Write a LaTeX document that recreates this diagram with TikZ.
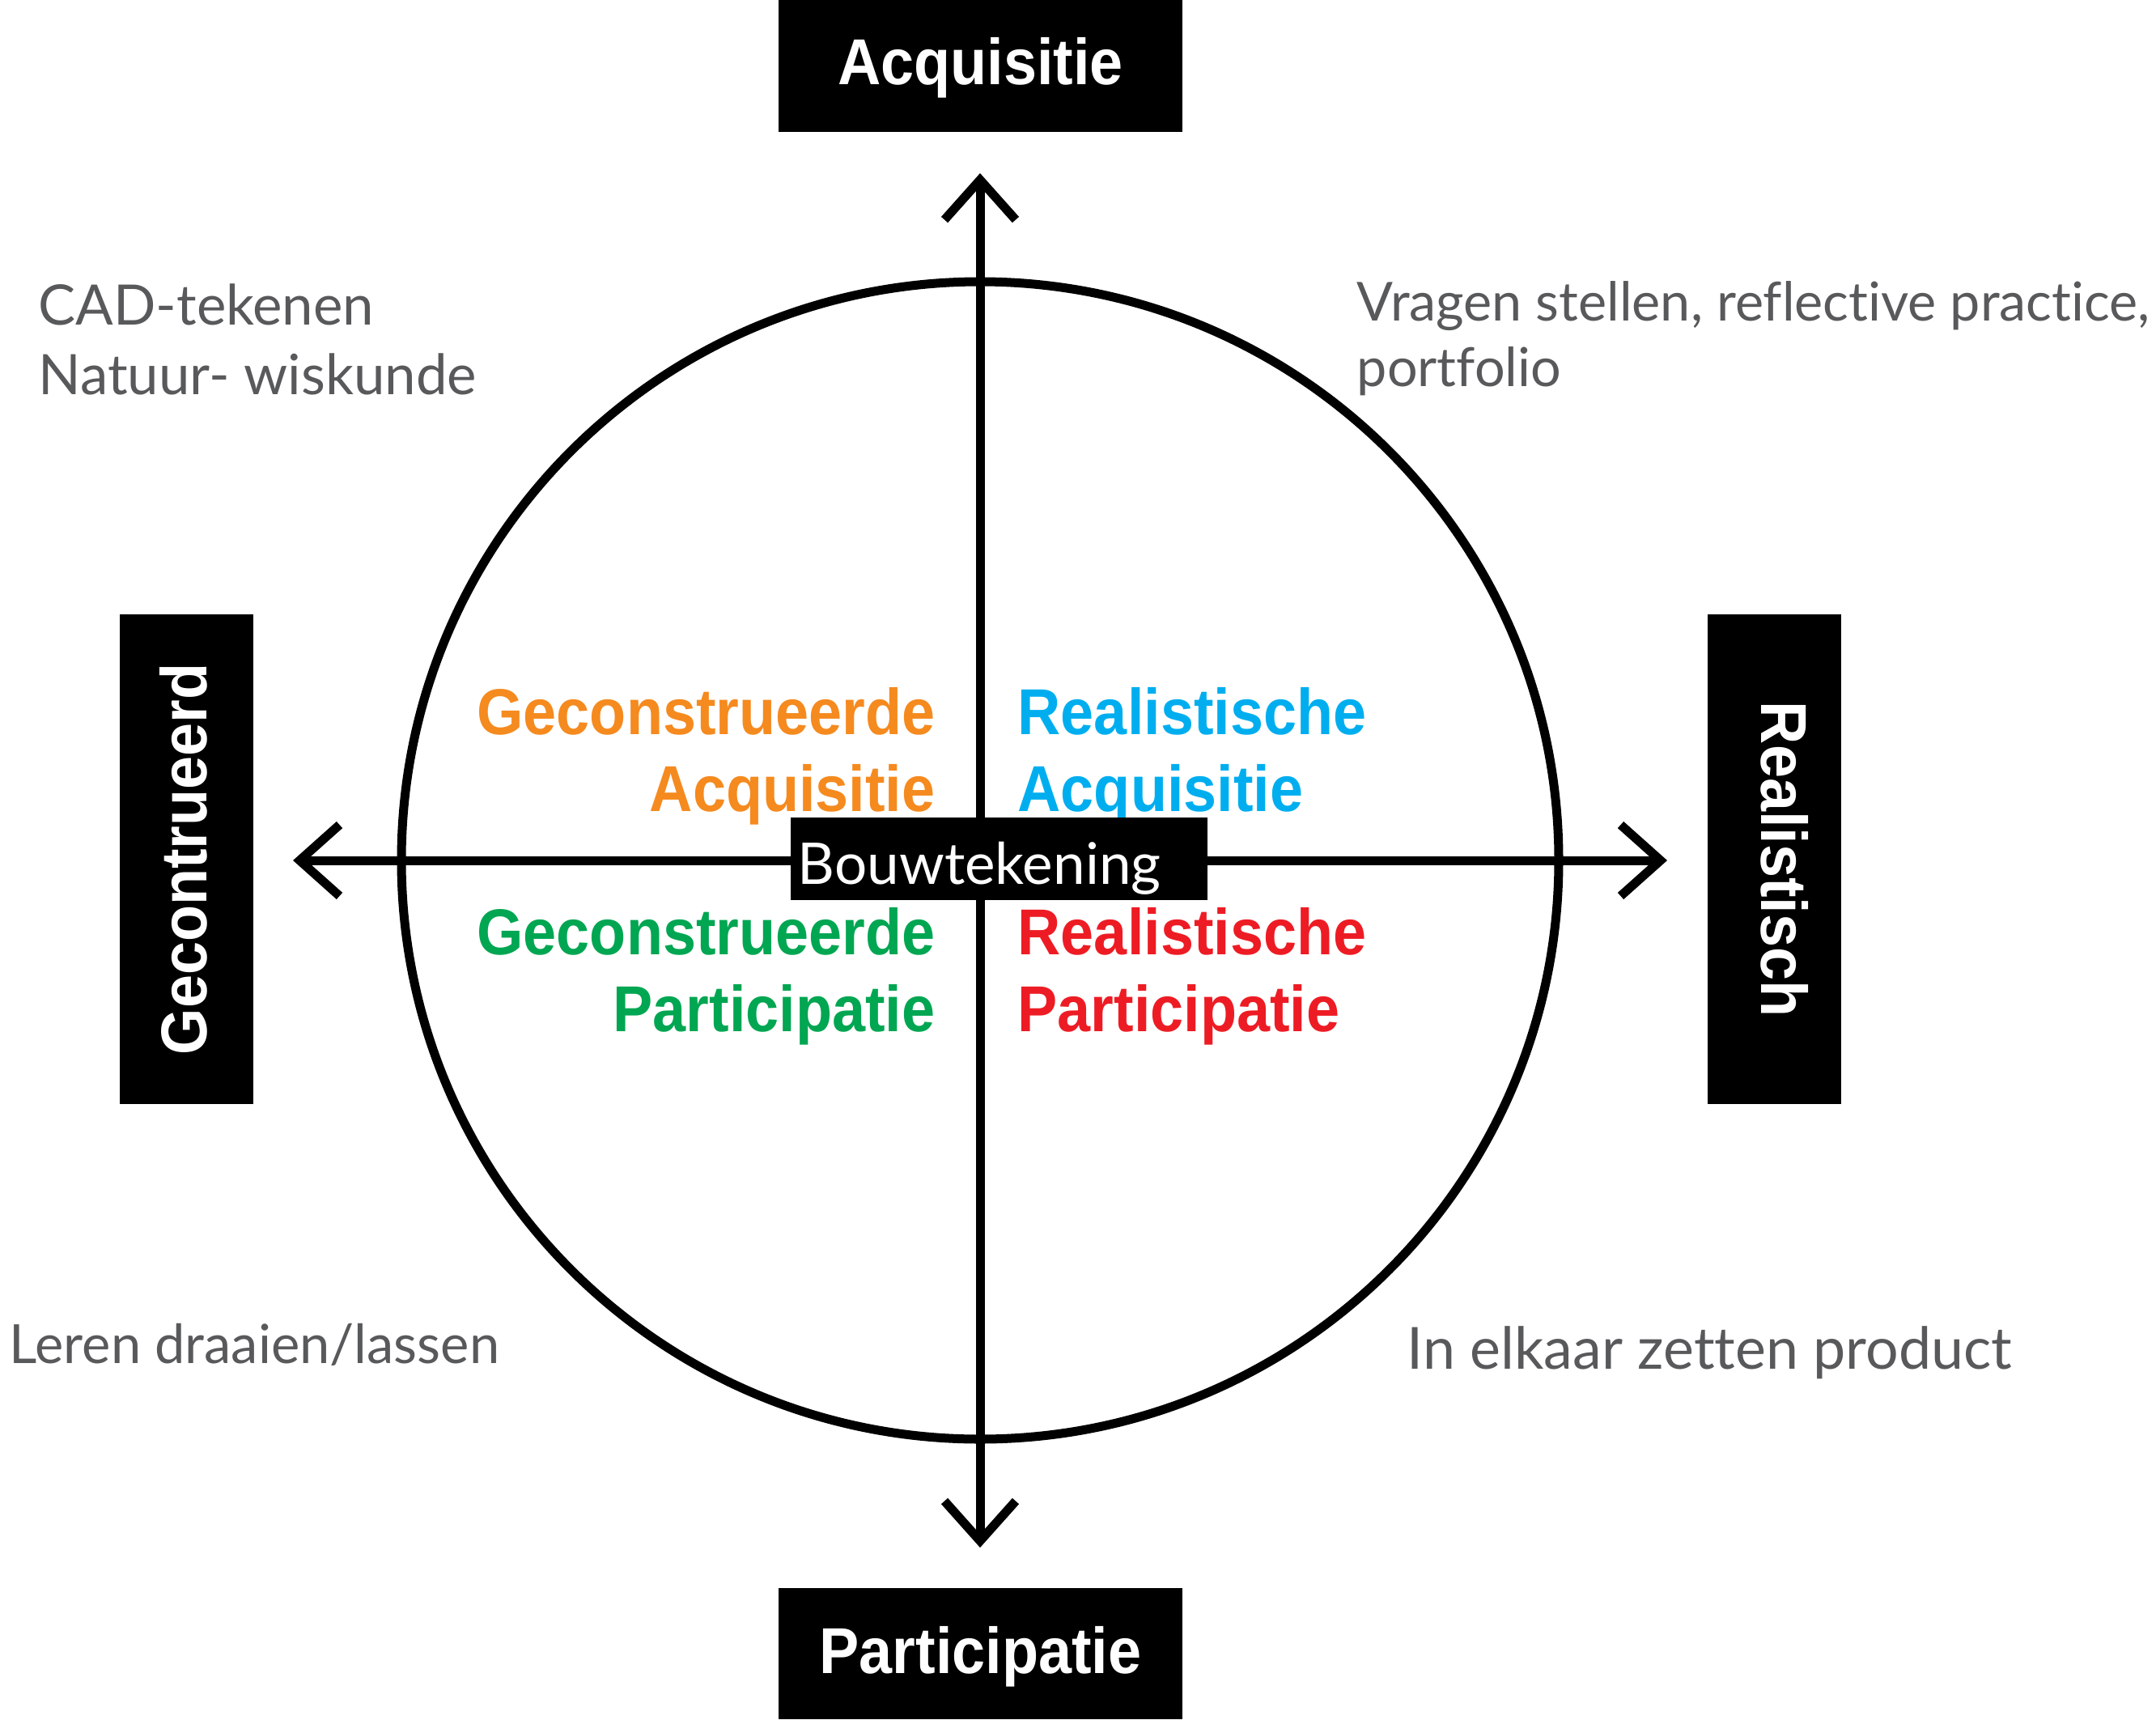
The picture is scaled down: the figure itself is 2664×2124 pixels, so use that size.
\documentclass[tikz,border=0pt]{standalone}
\usepackage{fontspec}
\setmainfont{Lato}[Ligatures=NoCommon]
\newfontfamily\hdfont{Liberation Sans}[FakeStretch=0.92]
\usetikzlibrary{arrows.meta}
\definecolor{qorange}{HTML}{F58A1F}
\definecolor{qblue}{HTML}{00AEEF}
\definecolor{qgreen}{HTML}{00A651}
\definecolor{qred}{HTML}{ED1C24}
\definecolor{notegray}{HTML}{58595B}
\begin{document}
\begin{tikzpicture}[x=0.01cm,y=-0.01cm,
  hdbox/.style={fill=black, text=white, inner sep=0pt, text depth=0pt,
    font=\hdfont\bfseries\fontsize{22.8pt}{26.75pt}\selectfont},
  quad/.style={inner sep=0pt,
    font=\hdfont\bfseries\fontsize{22.8pt}{26.75pt}\selectfont},
  note/.style={inner sep=0pt, text=notegray,
    font=\fontsize{19.35pt}{23.9pt}\selectfont},
  axis/.style={line width=3.13pt,
    arrows={Straight Barb[length=14pt,width=25pt,line cap=butt,line join=miter]-Straight Barb[length=14pt,width=25pt,line cap=butt,line join=miter]}},
  ring/.style={line width=3.13pt}
]
\useasboundingbox (0,0) rectangle (2664,2124);

% centre and axis ends
\coordinate (c) at (1211,1063);
\coordinate (top) at (1211,214);
\coordinate (bot) at (1211,1912);
\coordinate (lft) at (362,1063);
\coordinate (rgt) at (2060,1063);

\draw[ring] (c) circle[radius=715];
\draw[axis] (bot) -- (top);
\draw[axis] (lft) -- (rgt);

% axis labels
\node[hdbox, minimum width=4.99cm, minimum height=1.63cm, text height=12.8pt] (acq) at (1211.5,81.5) {Acquisitie};
\node[hdbox, minimum width=4.99cm, minimum height=1.62cm, text height=13.66pt] (par) at (1211.5,2043) {Participatie};
\node[hdbox, rotate=90, minimum width=6.05cm, minimum height=1.65cm, text height=13.94pt] (gec) at (230.5,1061.5) {Gecontrueerd};
\node[hdbox, rotate=-90, minimum width=6.05cm, minimum height=1.65cm, text height=9.39pt] (rea) at (2192.5,1061.5) {Realistisch};

% quadrant labels (base anchor = baseline of the last line)
\node[quad, text=qorange, align=right, anchor=base east] (ga) at (1156,1002) {Geconstrueerde\\Acquisitie};
\node[quad, text=qblue, align=left, anchor=base west] (ra) at (1257,1002) {Realistische\\Acquisitie};
\node[quad, text=qgreen, align=right, anchor=base east] (gp) at (1156,1274) {Geconstrueerde\\Participatie};
\node[quad, text=qred, align=left, anchor=base west] (rp) at (1257,1274) {Realistische\\Participatie};

% notes
\node[note, align=left, anchor=base west, font=\fontsize{19.6pt}{24.2pt}\selectfont] (n1) at (47,487) {CAD-tekenen\\Natuur- wiskunde};
\node[note, align=left, anchor=base west, font=\fontsize{18.9pt}{23pt}\selectfont] (n2) at (1676,477) {Vragen stellen, reflective practice,\\portfolio};
\node[note, anchor=base west, font=\fontsize{19pt}{23pt}\selectfont] (n3) at (11,1684) {Leren draaien/lassen};
\node[note, anchor=base west, font=\fontsize{20.4pt}{25pt}\selectfont] (n4) at (1738,1691) {In elkaar zetten product};

% centre label
\node[fill=black, text=white, inner xsep=0.09cm, inner ysep=0pt, text width=4.97cm, align=left,
  minimum height=1.02cm, text height=17.64pt, text depth=0pt,
  font=\fontsize{20.2pt}{24pt}\selectfont] (bouw) at (1234.5,1061) {Bouwtekening};
\end{tikzpicture}
\end{document}
